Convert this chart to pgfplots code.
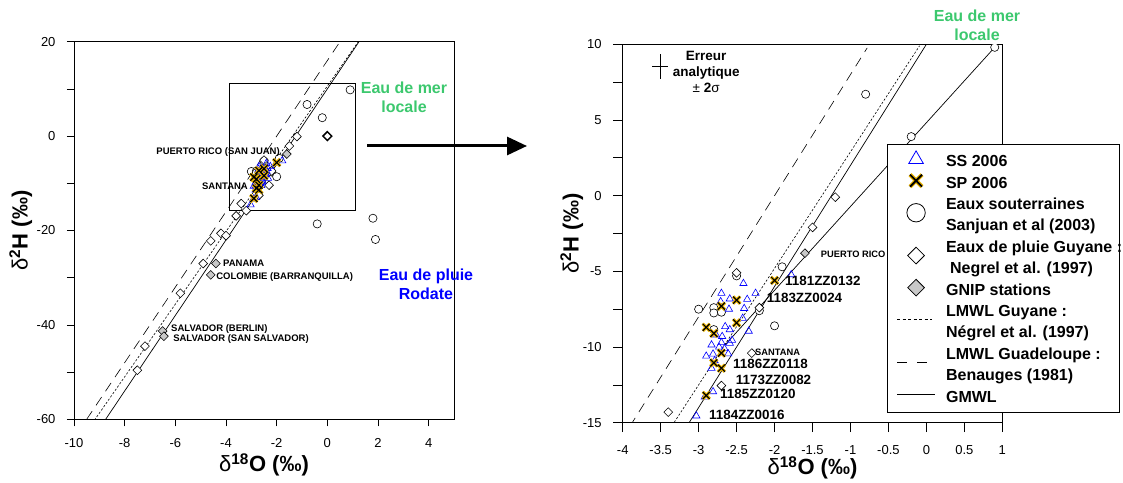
\documentclass[border=0pt]{standalone}
\usepackage{fontspec}
\setmainfont{Liberation Sans}
\usepackage{pgfplots}
\usepackage{pgfplotstable}
\pgfplotsset{compat=1.18}
\usetikzlibrary{arrows.meta}
\definecolor{gold}{RGB}{235,180,0}
\definecolor{seagreen}{RGB}{60,200,110}
\definecolor{gnipgray}{RGB}{200,200,200}

\pgfplotstableread{
x y
-1.78 -5.22
-2.41 -5.80
-2.70 -6.45
-2.25 -6.45
-2.59 -6.82
-2.36 -6.85
-2.71 -7.00
-2.60 -7.50
-2.40 -7.45
-2.42 -8.10
-2.65 -8.65
-2.59 -8.85
-2.34 -8.95
-2.77 -9.20
-2.69 -9.30
-2.56 -9.55
-2.59 -9.75
-2.70 -9.70
-2.83 -9.86
-2.73 -10.00
-2.66 -10.10
-2.61 -10.45
-2.81 -10.46
-2.90 -10.60
-2.79 -10.90
-2.83 -11.40
-2.81 -12.95
-2.92 -13.30
-3.03 -14.55
}\ssdata

\pgfplotstableread{
x y
-2.00 -5.60
-2.50 -6.90
-2.70 -7.30
-2.50 -8.40
-2.90 -8.70
-2.80 -9.10
-2.70 -10.40
-2.80 -11.05
-2.70 -11.40
-2.90 -13.20
}\spdata

\pgfplotstableread{
x y
0.90 9.80
-0.80 6.70
-0.20 3.90
-1.90 -4.70
-2.50 -5.30
-3.00 -7.50
-2.80 -7.40
-2.80 -7.75
-2.70 -7.70
-2.20 -7.60
-2.00 -8.60
-2.80 -8.85
-0.40 -18.60
1.80 -17.40
1.90 -21.90
}\gwdata

\pgfplotstableread{
x y
-1.20 -0.10
-1.50 -2.10
-2.50 -5.10
-2.20 -7.40
-2.30 -10.40
-2.70 -12.55
-3.40 -14.30
-3.20 -15.80
-3.60 -16.90
-4.20 -20.60
-4.00 -21.10
-4.60 -22.20
-4.90 -27.00
-5.80 -33.30
-7.20 -44.50
-7.50 -49.60
}\raindata

\pgfplotstableread{
x y
-1.60 -3.80
-4.40 -27.00
-4.60 -29.40
-6.50 -41.30
-6.45 -42.40
}\gnipdata

\pgfplotsset{
  panel/.style={
    scale only axis,
    axis line style={black, line width=0.7pt},
    tick align=outside,
    tick pos=left,
    tick style={black, line width=0.7pt},
    major tick length=7pt, minor tick length=7pt,
    tick label style={font=\fontsize{13}{15}\selectfont},
    yticklabel style={xshift=-8pt},
    /pgf/number format/assume math mode=true,
    scaled ticks=false,
    label style={font=\fontsize{22}{26}\selectfont\bfseries},
    clip marker paths=true,
  },
  ss/.style={only marks, mark=triangle, mark size=4.2pt, mark options={draw=blue, line width=0.6pt, fill=none}, forget plot},
  spo/.style={only marks, mark=x, mark size=5pt, mark options={draw=gold, line width=3.2pt}, forget plot},
  spi/.style={only marks, mark=x, mark size=5pt, mark options={draw=black, line width=1.2pt}, forget plot},
  gw/.style={only marks, mark=*, mark size=4.1pt, mark options={draw=black, fill=white, line width=0.6pt}, forget plot},
  rain/.style={only marks, mark=square*, mark size=3.1pt, mark options={rotate=45, draw=black, fill=white, line width=0.6pt}, forget plot},
  gnip/.style={only marks, mark=square*, mark size=3.1pt, mark options={rotate=45, draw=black, fill=gnipgray, line width=0.6pt}, forget plot},
  gmwl/.style={black, line width=0.7pt, forget plot},
  guy/.style={black, line width=0.6pt, dash pattern=on 2.2pt off 1.8pt, forget plot},
  gua/.style={black, line width=0.6pt, dash pattern=on 10pt off 7pt, forget plot},
}
\newcommand{\lt}[1]{\makebox[163pt][l]{\strut #1}}

\begin{document}
\begin{tikzpicture}
\path[use as bounding box] (0pt,0pt) rectangle (1123pt,482pt);

% ---------------- left panel ----------------
\begin{axis}[panel,
  at={(74pt,62.7pt)}, anchor=south west,
  width=380pt, height=377.6pt,
  xmin=-10, xmax=5, ymin=-60, ymax=20,
  xtick={-10,-8,...,4}, ytick={-60,-40,...,20},
  minor ytick={-50,-30,-10,10},
  xticklabel style={yshift=-8.5pt},
  xlabel={{\mdseries δ}\textsuperscript{18}O (‰)},
  ylabel={{\mdseries δ}\textsuperscript{2}H (‰)},
  xlabel style={at={(axis description cs:0.5,-0.121)}, anchor=center},
  ylabel style={at={(axis description cs:-0.14,0.5)}, anchor=center},
]
\addplot[gua] coordinates {(-11,-72) (3,40)};
\addplot[guy] coordinates {(-11,-74.1) (3,33.7)};
\addplot[gmwl] coordinates {(-11,-78) (3,34)};
\draw[black, line width=0.7pt] (axis cs:-3.87,-15.7) rectangle (axis cs:1.1,11.2);
\addplot[gw] table {\gwdata};
\addplot[rain] table {\raindata};
\addplot[only marks, mark=square*, mark size=3.1pt, mark options={rotate=45, draw=black, fill=white, line width=1.5pt}, forget plot] coordinates {(0,0)};
\addplot[gnip] table {\gnipdata};
\addplot[ss] table {\ssdata};
\addplot[spo] table {\spdata};
\addplot[spi] table {\spdata};
\begin{scope}[every node/.style={font=\fontsize{9.5}{11}\selectfont\bfseries, inner sep=0pt}]
\node[anchor=east] at (axis cs:-1.87,-3.37) {PUERTO RICO (SAN JUAN)};
\node[anchor=east] at (axis cs:-3.13,-10.57) {SANTANA};
\node[anchor=west] at (axis cs:-4.12,-26.9) {PANAMA};
\node[anchor=west] at (axis cs:-4.39,-29.85) {COLOMBIE (BARRANQUILLA)};
\node[anchor=west] at (axis cs:-6.17,-40.87) {SALVADOR (BERLIN)};
\node[anchor=west] at (axis cs:-6.09,-43.0) {SALVADOR (SAN SALVADOR)};
\end{scope}
\end{axis}

% ---------------- right panel ----------------
\begin{axis}[panel,
  at={(622.7pt,59.3pt)}, anchor=south west,
  width=379.6pt, height=378.4pt,
  major tick length=9.5pt, minor tick length=9.5pt,
  xmin=-4, xmax=1, ymin=-15, ymax=10,
  xtick={-4,-3.5,...,1}, ytick={-15,-10,...,10},
  minor ytick={-12.5,-7.5,...,7.5},
  xticklabel style={yshift=-9.5pt},
  xlabel={{\mdseries δ}\textsuperscript{18}O (‰)},
  ylabel={{\mdseries δ}\textsuperscript{2}H (‰)},
  xlabel style={at={(axis description cs:0.5,-0.12)}, anchor=center},
  ylabel style={at={(axis description cs:-0.134,0.5)}, anchor=center},
  legend cell align=left,
  legend style={at={(axis description cs:0.6955,0.7365)}, anchor=north west,
    draw=black, line width=0.7pt, fill=white,
    font=\fontsize{16}{19}\selectfont\bfseries,
    inner xsep=10pt, inner ysep=9pt,
    nodes={inner sep=0pt},
    column sep=11pt, row sep=6.6pt},
]
\addplot[gua] coordinates {(-4.5,-20) (-0.78,9.76)};
\addplot[guy] coordinates {(-4.5,-24.05) (-0.09,9.9)};
\addplot[gmwl] coordinates {(-4.5,-26) (0,10)};
\addplot[gmwl] coordinates {(0.9,9.8) (-2.65,-9.85)};
\addplot[black, line width=0.7pt, mark=none, forget plot,
  error bars/.cd, x dir=both, y dir=both, x explicit, y explicit,
  error mark=none, error bar style={line width=0.7pt, black}]
  coordinates {(-3.51,8.52) +- (0.1,0.82)};
\addplot[gw] table {\gwdata};
\addplot[rain] table {\raindata};
\addplot[gnip] table {\gnipdata};
\addplot[ss] table {\ssdata};
\addplot[spo] table {\spdata};
\addplot[spi] table {\spdata};
\begin{scope}[every node/.style={inner sep=0pt, anchor=west}]
\node[font=\fontsize{13.4}{15}\selectfont\bfseries] at (axis cs:-1.862,-5.63) {1181ZZ0132};
\node[font=\fontsize{13.4}{15}\selectfont\bfseries] at (axis cs:-2.103,-6.78) {1183ZZ0024};
\node[font=\fontsize{13.4}{15}\selectfont\bfseries] at (axis cs:-2.547,-11.14) {1186ZZ0118};
\node[font=\fontsize{13.4}{15}\selectfont\bfseries] at (axis cs:-2.511,-12.17) {1173ZZ0082};
\node[font=\fontsize{13.4}{15}\selectfont\bfseries] at (axis cs:-2.718,-13.12) {1185ZZ0120};
\node[font=\fontsize{13.4}{15}\selectfont\bfseries] at (axis cs:-2.863,-14.5) {1184ZZ0016};
\node[font=\fontsize{9.3}{11}\selectfont\bfseries] at (axis cs:-2.257,-10.37) {SANTANA};
\node[font=\fontsize{9.3}{11}\selectfont\bfseries] at (axis cs:-1.391,-3.87) {PUERTO RICO};
\end{scope}
\node[align=center, font=\fontsize{13.5}{16}\selectfont\bfseries, inner sep=0pt] at (axis cs:-2.9,8.2) {Erreur\\analytique\\{\mdseries ±} 2{\mdseries σ}};

\addlegendimage{legend image code/.code={\path[draw=none,fill=none] (0pt,-1pt) rectangle (38pt,1pt); \draw[overlay, blue, line width=0.8pt] plot[only marks, mark=triangle, mark size=8.4pt] coordinates {(19pt,1.5pt)};}}
\addlegendentry{\lt{SS 2006}}
\addlegendimage{legend image code/.code={\path[draw=none,fill=none] (0pt,-1pt) rectangle (38pt,1pt); \draw[overlay, gold, line width=4.2pt] plot[only marks, mark=x, mark size=8.5pt] coordinates {(19pt,1.5pt)}; \draw[overlay, black, line width=1.8pt] plot[only marks, mark=x, mark size=8.5pt] coordinates {(19pt,1.5pt)};}}
\addlegendentry{\lt{SP 2006}}
\addlegendimage{legend image code/.code={\path[draw=none,fill=none] (0pt,-1pt) rectangle (38pt,1pt); \draw[overlay, black, fill=white, line width=0.8pt] (19pt,-9.2pt) circle (9.2pt);}}
\addlegendentry{\lt{Eaux souterraines}}
\addlegendimage{empty legend}
\addlegendentry{\lt{Sanjuan et al (2003)}}
\addlegendimage{legend image code/.code={\path[draw=none,fill=none] (0pt,-1pt) rectangle (38pt,1pt); \draw[overlay, black, fill=white, line width=0.8pt] plot[only marks, mark=square*, mark size=5.9pt, mark options={rotate=45}] coordinates {(19pt,-9.2pt)};}}
\addlegendentry{\lt{Eaux de pluie Guyane :}}
\addlegendimage{empty legend}
\addlegendentry{\lt{\hspace*{4pt}Negrel et al. (1997)}}
\addlegendimage{legend image code/.code={\path[draw=none,fill=none] (0pt,-1pt) rectangle (38pt,1pt); \draw[overlay, black, fill=gnipgray, line width=0.8pt] plot[only marks, mark=square*, mark size=5.9pt, mark options={rotate=45}] coordinates {(19pt,1.5pt)};}}
\addlegendentry{\lt{GNIP stations}}
\addlegendimage{legend image code/.code={\path[draw=none,fill=none] (0pt,-1pt) rectangle (38pt,1pt); \draw[overlay, black, line width=0.7pt, dash pattern=on 3pt off 2.5pt] (0pt,-9.2pt) -- (35pt,-9.2pt);}}
\addlegendentry{\lt{LMWL Guyane :}}
\addlegendimage{empty legend}
\addlegendentry{\lt{Négrel et al. (1997)}}
\addlegendimage{legend image code/.code={\path[draw=none,fill=none] (0pt,-1pt) rectangle (38pt,1pt); \draw[overlay, black, line width=0.7pt, dash pattern=on 10pt off 10pt] (0pt,-9.2pt) -- (30pt,-9.2pt);}}
\addlegendentry{\lt{LMWL Guadeloupe :}}
\addlegendimage{empty legend}
\addlegendentry{\lt{Benauges (1981)}}
\addlegendimage{legend image code/.code={\path[draw=none,fill=none] (0pt,-1pt) rectangle (38pt,1pt); \draw[overlay, black, line width=0.7pt] (0pt,1.5pt) -- (38pt,1.5pt);}}
\addlegendentry{\lt{GMWL}}
\end{axis}

% ---------------- annotations ----------------
\node[align=center, text=seagreen, font=\fontsize{16}{19}\selectfont\bfseries, inner sep=0pt] at (404pt,384.5pt) {Eau de mer\\locale};
\node[align=center, text=blue, font=\fontsize{16}{19}\selectfont\bfseries, inner sep=0pt] at (426pt,197.5pt) {Eau de pluie\\Rodate};
\node[align=center, text=seagreen, font=\fontsize{16}{19}\selectfont\bfseries, inner sep=0pt] at (977pt,456.5pt) {Eau de mer\\locale};
\draw[line width=3pt, -{Triangle[length=20pt, width=18pt]}] (367pt,336pt) -- (527pt,336pt);
\end{tikzpicture}
\end{document}
